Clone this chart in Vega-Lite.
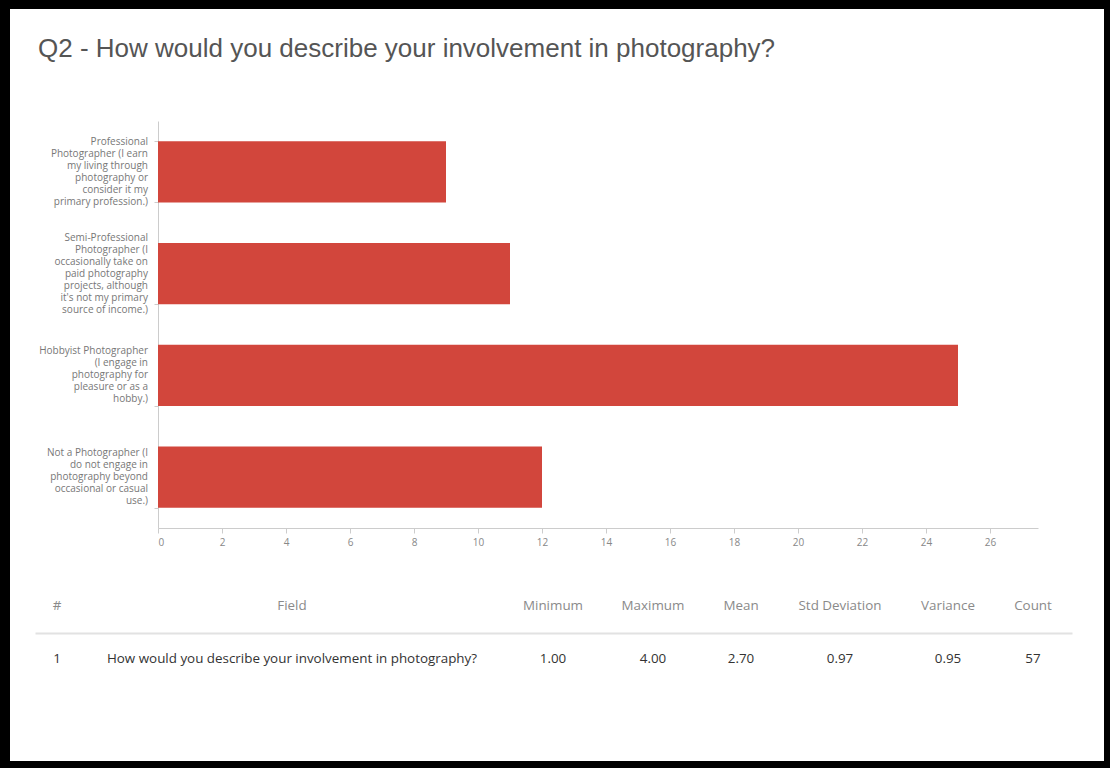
{
  "$schema": "https://vega.github.io/schema/vega-lite/v6.json",
  "width": 1094,
  "height": 752,
  "autosize": {"type": "none"},
  "padding": {"left": 10, "top": 9, "right": 6, "bottom": 7},
  "background": "#000000",
  "config": {"view": {"fill": "#ffffff", "stroke": null}},
  "title": {
    "text": "Q2 - How would you describe your involvement in photography?",
    "anchor": "start",
    "frame": "group",
    "font": "Liberation Sans",
    "fontSize": 26,
    "fontWeight": "normal",
    "color": "#555555",
    "dx": 28,
    "offset": -53
  },
  "layer": [
    {
      "data": {
        "values": [
          {"answer": "Professional\nPhotographer (I earn\nmy living through\nphotography or\nconsider it my\nprimary profession.)", "count": 9},
          {"answer": "Semi-Professional\nPhotographer (I\noccasionally take on\npaid photography\nprojects, although\nit's not my primary\nsource of income.)", "count": 11},
          {"answer": "Hobbyist Photographer\n(I engage in\nphotography for\npleasure or as a\nhobby.)", "count": 25},
          {"answer": "Not a Photographer (I\ndo not engage in\nphotography beyond\noccasional or casual\nuse.)", "count": 12}
        ]
      },
      "layer": [
        {
          "mark": {"type": "bar", "color": "#d2463c"},
          "encoding": {
            "y": {
              "field": "answer",
              "type": "nominal",
              "sort": null,
              "scale": {"range": [112, 519], "paddingInner": 0.4, "paddingOuter": 0.2},
              "axis": {
                "title": null,
                "orient": "left",
                "offset": -148,
                "domainColor": "#cccccc",
                "tickColor": "#cccccc",
                "tickSize": 4,
                "tickBand": "extent",
                "labels": false
              }
            },
            "x": {
              "field": "count",
              "type": "quantitative",
              "scale": {"domain": [0, 27.5], "range": [148, 1028], "nice": false, "zero": true},
              "axis": {
                "title": null,
                "orient": "bottom",
                "offset": -233,
                "values": [0, 2, 4, 6, 8, 10, 12, 14, 16, 18, 20, 22, 24, 26],
                "grid": false,
                "domainColor": "#cccccc",
                "tickColor": "#cccccc",
                "tickSize": 5,
                "labelPadding": 4,
                "labelFont": "Open Sans",
                "labelFontSize": 10,
                "labelColor": "#888888"
              }
            }
          }
        },
        {
          "mark": {
            "type": "text",
            "align": "right",
            "baseline": "middle",
            "dx": -10,
            "lineBreak": "\n",
            "lineHeight": 12,
            "font": "Open Sans",
            "fontSize": 10,
            "color": "#777777",
            "dy": {"expr": "-(length(split(datum.answer, '\\n')) - 1) * 6"}
          },
          "encoding": {
            "y": {"field": "answer", "type": "nominal", "sort": null},
            "x": {"datum": 0, "type": "quantitative"},
            "text": {"field": "answer", "type": "nominal"}
          }
        }
      ]
    },
    {
      "data": {
        "values": [
          {"col": 1, "header": "#", "value": "1"},
          {"col": 2, "header": "Field", "value": "How would you describe your involvement in photography?"},
          {"col": 3, "header": "Minimum", "value": "1.00"},
          {"col": 4, "header": "Maximum", "value": "4.00"},
          {"col": 5, "header": "Mean", "value": "2.70"},
          {"col": 6, "header": "Std Deviation", "value": "0.97"},
          {"col": 7, "header": "Variance", "value": "0.95"},
          {"col": 8, "header": "Count", "value": "57"}
        ]
      },
      "transform": [{"fold": ["header", "value"], "as": ["row", "text"]}],
      "mark": {"type": "text", "font": "Open Sans", "fontSize": 13.4, "align": "center", "baseline": "middle"},
      "encoding": {
        "x": {
          "field": "col",
          "type": "quantitative",
          "scale": {
            "domain": [0, 1, 2, 3, 4, 5, 6, 7, 8, 9],
            "range": [25, 47, 282, 543, 643, 731, 830, 938, 1023, 1062],
            "nice": false,
            "zero": false
          },
          "axis": {
            "title": null,
            "orient": "bottom",
            "offset": -128,
            "labels": false,
            "ticks": false,
            "grid": false,
            "domainColor": "#e2e2e2",
            "domainWidth": 2
          }
        },
        "y": {
          "field": "row",
          "type": "nominal",
          "scale": {"type": "point", "domain": ["header", "value"], "range": [597, 650], "padding": 0},
          "axis": null
        },
        "text": {"field": "text", "type": "nominal"},
        "color": {
          "field": "row",
          "type": "nominal",
          "scale": {"domain": ["header", "value"], "range": ["#8a8a8a", "#333333"]},
          "legend": null
        }
      }
    }
  ],
  "resolve": {
    "scale": {"x": "independent", "y": "independent", "color": "independent"},
    "axis": {"x": "independent", "y": "independent"}
  }
}
